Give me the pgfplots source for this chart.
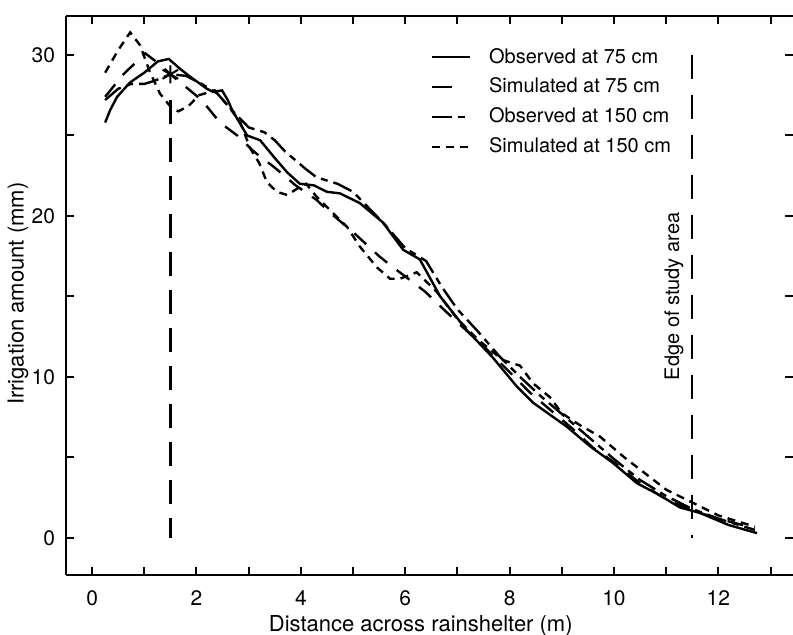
\documentclass[border=0pt]{standalone}
\usepackage{fontspec}
\setmainfont{TeX Gyre Heros}
\usepackage{pgfplots}
\pgfplotsset{compat=1.18}

\pgfplotsset{
  scanAxis/.style={
    width=363.5pt, height=279.5pt, scale only axis,
    xmin=-0.5, xmax=13.43, ymin=-2.3, ymax=32.42,
    tick align=inside,
    major tick length=4pt, minor tick length=4pt,
    axis line style={line width=1.1pt},
    tick style={line width=1pt, black},
    /pgf/number format/assume math mode=true
  },
  shortLeg/.style={legend image code/.code={\draw[##1, solid] (0pt,0pt) -- (10pt,0pt);}}
}

\begin{document}
\begin{tikzpicture}
\begin{axis}[
  scanAxis, name=ax,
  axis y line*=left,
  xtick={0,2,...,12}, minor xtick={1,3,...,13},
  ytick={0,10,20,30}, minor ytick={5,15,25},
  tick label style={font=\fontsize{10.5}{12}\selectfont},
  x tick label style={yshift=-4.5pt},
  y tick label style={xshift=-2pt},
  xlabel={Distance across rainshelter (m)},
  ylabel={Irrigation amount (mm)},
  label style={font=\fontsize{11}{13}\selectfont},
  xlabel style={at={(axis description cs:0.488,0)}, anchor=center, yshift=-25.5pt},
  ylabel style={at={(axis description cs:-0.066,0.503)}, anchor=center},
  legend style={at={(axis cs:6.48,30.7)}, anchor=north west, draw=none, fill=none,
    font=\fontsize{10}{12}\selectfont, row sep=2pt, column sep=7pt, inner sep=0pt},
  legend cell align={left},
  legend image code/.code={\draw[#1] (0pt,0pt) -- (19pt,0pt);},
  every axis plot/.append style={line width=1.2pt, black}
]
% observed at 75 cm
\addplot[solid] coordinates {
(0.25,25.8) (0.35,26.6) (0.48,27.4) (0.73,28.3) (1.0,28.9) (1.26,29.6) (1.47,29.75)
(1.7,29.1) (1.9,28.6) (2.2,27.9) (2.32,27.7) (2.49,27.8) (2.6,27.2) (2.68,26.6)
(2.97,25.0) (3.22,24.7) (3.5,23.6) (3.74,22.7) (3.98,22.0) (4.25,21.9) (4.5,21.5)
(4.75,21.4) (5.13,20.8) (5.57,19.6) (5.96,17.9) (6.28,17.3) (6.67,15.0) (7.18,12.9)
(7.68,11.2) (8.14,9.4) (8.45,8.4) (9.1,6.9) (9.54,5.7) (9.98,4.66) (10.44,3.4)
(10.85,2.7) (11.26,1.9) (11.65,1.55) (12.2,0.8) (12.74,0.3)
};
\addlegendentry{Observed at 75 cm}
% simulated at 75 cm
\addplot[dash pattern=on 8pt off 6pt, shortLeg] coordinates {
(0.25,27.4) (0.6,28.8) (1.02,30.1) (1.3,29.4) (1.5,28.8) (1.8,28.0) (2.1,27.2)
(2.45,25.8) (2.78,25.0) (3.1,24.0) (3.5,23.0) (3.9,21.9) (4.3,21.0) (4.56,20.2)
(5.0,19.0) (5.5,17.5) (5.77,16.8) (6.1,16.0) (6.38,15.3) (6.8,14.0) (7.2,12.8)
(7.6,11.6) (8.0,10.3) (8.4,9.0) (8.8,7.9) (9.2,6.8) (9.6,5.6) (10.0,4.7)
(10.5,3.4) (11.0,2.4) (11.5,1.7) (12.0,1.2) (12.7,0.6)
};
\addlegendentry{Simulated at 75 cm}
% observed at 150 cm
\addplot[dash pattern=on 10pt off 3pt on 3.5pt off 3pt] coordinates {
(0.25,27.2) (0.5,27.9) (0.75,28.2) (1.0,28.2) (1.2,28.4) (1.5,28.8) (1.8,28.7)
(2.1,28.2) (2.4,27.6) (2.7,26.5) (3.0,25.5) (3.3,25.2) (3.5,24.7) (3.7,24.0)
(4.1,22.9) (4.3,22.4) (4.7,22.0) (5.0,21.5) (5.3,20.5) (5.6,19.5) (6.0,18.0)
(6.4,17.2) (6.7,15.6) (7.0,14.2) (7.4,12.8) (7.8,11.3) (8.2,10.0) (8.6,8.8)
(9.0,7.7) (9.5,6.3) (10.0,4.9) (10.5,3.6) (11.0,2.6) (11.5,1.8) (12.0,1.2) (12.7,0.5)
};
\addlegendentry{Observed at 150 cm}
% simulated at 150 cm
\addplot[dash pattern=on 4pt off 3pt] coordinates {
(0.25,28.9) (0.5,30.3) (0.73,31.4) (0.92,30.6) (1.1,29.0) (1.3,27.6) (1.5,26.8)
(1.65,26.5) (1.84,26.8) (2.05,27.5) (2.35,27.8) (2.64,26.7) (2.84,25.8) (3.03,24.2)
(3.2,23.3) (3.35,22.1) (3.54,21.5) (3.74,21.3) (3.93,21.7) (4.1,22.0) (4.3,21.2)
(4.89,19.3) (5.13,18.1) (5.46,16.8) (5.71,16.1) (5.9,16.1) (6.22,16.5) (6.6,15.3)
(7.0,13.6) (7.4,12.3) (7.87,11.05) (8.2,10.7) (8.45,9.6) (8.77,8.75) (9.0,7.75)
(9.35,7.0) (9.73,6.3) (10.2,5.0) (10.6,4.0) (11.0,3.0) (11.5,2.2) (12.0,1.4) (12.7,0.7)
};
\addlegendentry{Simulated at 150 cm}
% marker and reference lines
\addplot[only marks, mark=asterisk, mark size=4.5pt, mark options={line width=1pt}, forget plot]
  coordinates {(1.5,28.8)};
\addplot[line width=1.2pt, dash pattern=on 12pt off 7pt, forget plot]
  coordinates {(1.5,27.2) (1.5,0)};
\addplot[line width=1.2pt, dash pattern=on 12pt off 8pt, forget plot]
  coordinates {(11.5,30) (11.5,0)};
\node[rotate=90, font=\fontsize{10}{12}\selectfont] at (axis cs:11.15,15.0) {Edge of study area};
\end{axis}
\begin{axis}[
  scanAxis, at={(ax.south west)}, anchor=south west,
  hide x axis, axis y line*=right, y axis line style={draw=none},
  ytick={0,5,...,30}, yticklabels={}
]
\end{axis}
\pgfresetboundingbox
\path[use as bounding box] ([xshift=-33pt,yshift=-30pt]ax.south west) rectangle ([yshift=8pt]ax.north east);
\end{tikzpicture}
\end{document}
